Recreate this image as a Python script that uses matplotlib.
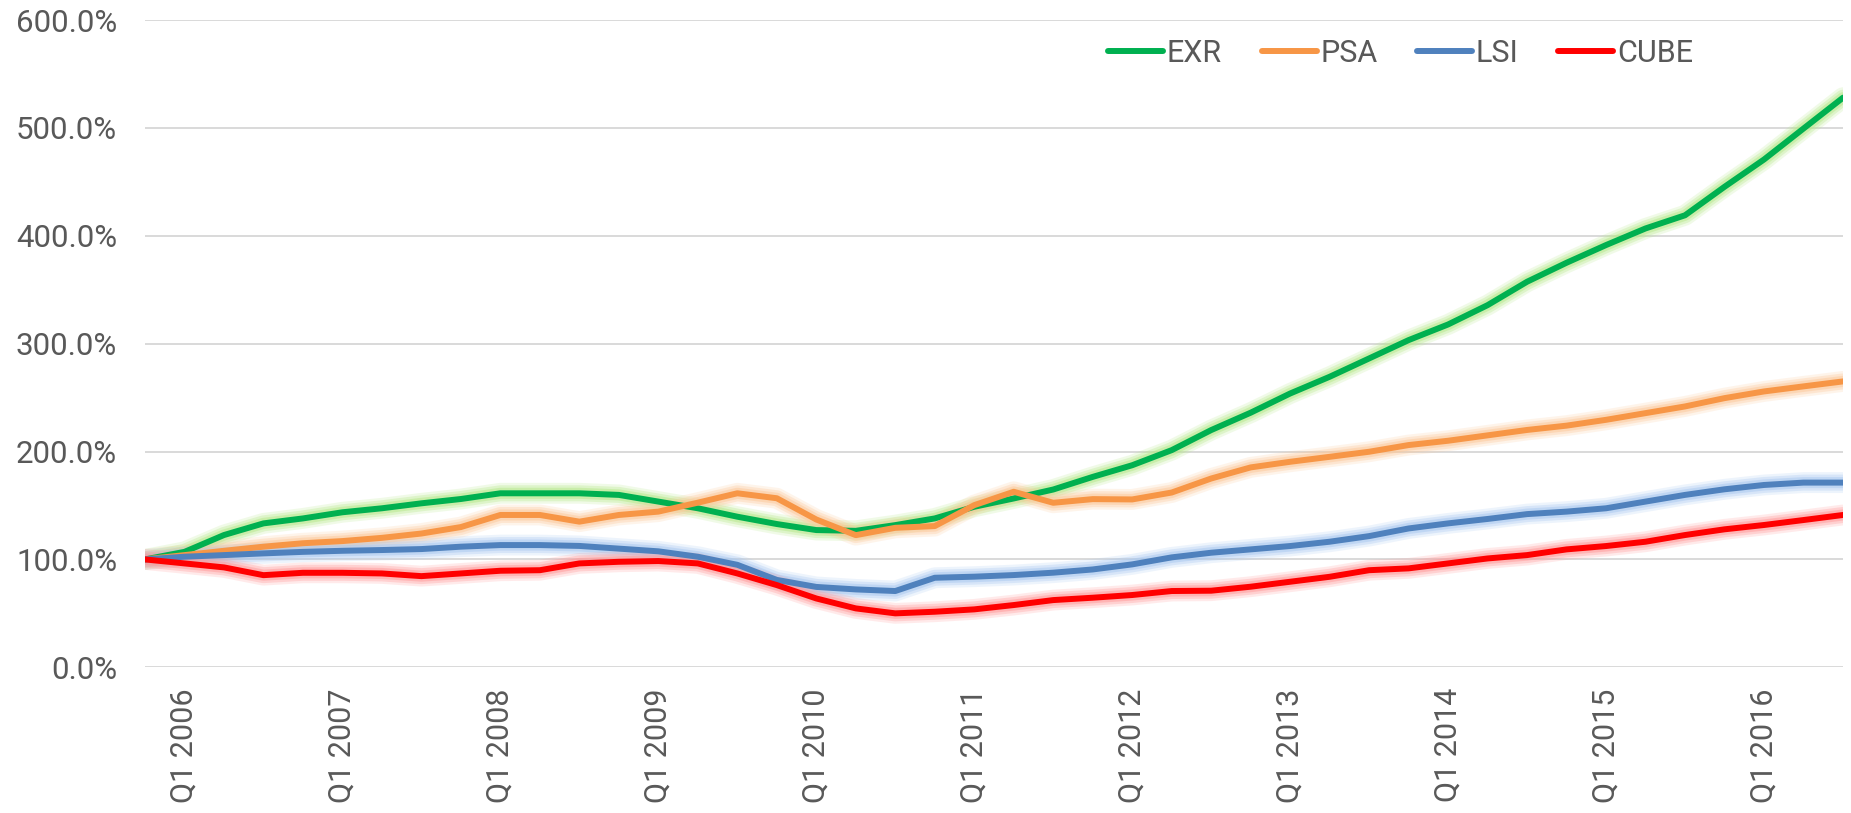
import matplotlib

matplotlib.use("Agg")
import matplotlib.pyplot as plt
import numpy as np

# quarterly index, base = 100% at Q4 2005
quarters = ["Q4 2005"] + [f"Q{q} {y}" for y in range(2006, 2017) for q in range(1, 5)][:43]

exr = [100, 107, 122.6, 133.4, 138, 143.7, 147.4, 152, 156, 161.3,
       161.3, 161.3, 159.8, 153.6, 147.4, 139.6, 132.8, 127.2, 126.5, 131.8,
       138, 148.8, 156.5, 164.8, 176.5, 187.3, 201.3, 219.9, 236, 253.8,
       269.3, 286.3, 303.3, 317.8, 335.7, 357.4, 375, 391.4, 406.8, 419,
       445.4, 470.7, 499.4, 528]
psa = [100, 104, 108, 111.8, 115, 117, 120, 124, 130, 141.2,
       141.2, 135, 141.2, 144.3, 152.6, 161.3, 156.7, 137, 122.5, 129.3,
       130.9, 150.3, 162.7, 152.5, 155.9, 155.6, 162, 175, 185.3, 190.5,
       195.1, 199.8, 206, 210, 215, 220, 224, 229.4, 235.6, 241.8,
       249.5, 255.7, 260.4, 265]
lsi = [100, 102.5, 104, 105.6, 107, 108, 108.7, 109.6, 111.8, 113.3,
       113.3, 112.5, 110, 107.5, 102.5, 95, 81, 74.5, 72.2, 70.7,
       83, 84, 85.5, 87.7, 90.7, 95.4, 101.9, 106.2, 109.3, 112.4,
       116.4, 121.6, 128.7, 133.4, 137.5, 142, 144.3, 147.4, 153.6, 159.8,
       165, 169, 171.2, 171.2]
cube = [100, 96.3, 92.6, 85.4, 87.6, 87.6, 87, 84.5, 87, 89.5,
        90, 96.3, 97.8, 98.5, 96.3, 87, 76.2, 63.8, 54.6, 50,
        51.5, 53.7, 57.7, 62.3, 64.5, 67, 70.7, 71, 74.7, 79.3,
        83.9, 90, 91.7, 96.3, 100.9, 104, 109.3, 112.4, 116.4, 122.6,
        127.9, 131.9, 136.5, 141.2]

series = [
    ("EXR", exr, "#00b050", "#b6e88a"),
    ("PSA", psa, "#f79646", "#fcc89a"),
    ("LSI", lsi, "#4f81bd", "#a9c8f0"),
    ("CUBE", cube, "#ff0000", "#ff9a9a"),
]

plt.rcParams["font.family"] = ["Roboto", "DejaVu Sans"]
text_color = "#595959"

fig = plt.figure(figsize=(18.51, 8.13), dpi=100)
ax = fig.add_axes([145 / 1851, 1 - 667.3 / 813, (1843 - 145) / 1851, (667.3 - 20) / 813])

x = np.arange(len(quarters))
for name, vals, color, glow in series:
    # soft glow underneath each line, like the Excel effect
    for lw, a in [(15, 0.2), (11.5, 0.32), (8, 0.5)]:
        ax.plot(x, vals, color=glow, lw=lw, alpha=a, solid_joinstyle="round",
                solid_capstyle="round", zorder=2)
    ax.plot(x, vals, color=color, lw=4.3, label=name, solid_joinstyle="round",
            solid_capstyle="round", zorder=3)

ax.set_xlim(0, len(quarters) - 1)
ax.set_ylim(0, 600)
ax.set_yticks(np.arange(0, 601, 100))
ax.set_yticklabels([f"{v:.1f}%" for v in np.arange(0, 601, 100)], fontsize=22.5)
tick_idx = [i for i, q in enumerate(quarters) if q.startswith("Q1")]
ax.set_xticks(tick_idx)
ax.set_xticklabels([quarters[i] for i in tick_idx], rotation=90, va="top", ha="center",
                   fontsize=22)
ax.tick_params(axis="both", length=0, colors=text_color)
ax.tick_params(axis="x", pad=15)
ax.tick_params(axis="y", pad=20)
ax.grid(axis="y", color="#d9d9d9", lw=1.4)
ax.set_axisbelow(True)
for s in ax.spines.values():
    s.set_visible(False)

leg = fig.legend(loc="center left", bbox_to_anchor=(1108 / 1851, 1 - 53 / 813), ncol=4,
                 frameon=False, fontsize=22, handlelength=1.8, handletextpad=0.12,
                 columnspacing=1.3, borderpad=0, borderaxespad=0)
for t in leg.get_texts():
    t.set_color(text_color)

fig.savefig("out.png", dpi=100)
